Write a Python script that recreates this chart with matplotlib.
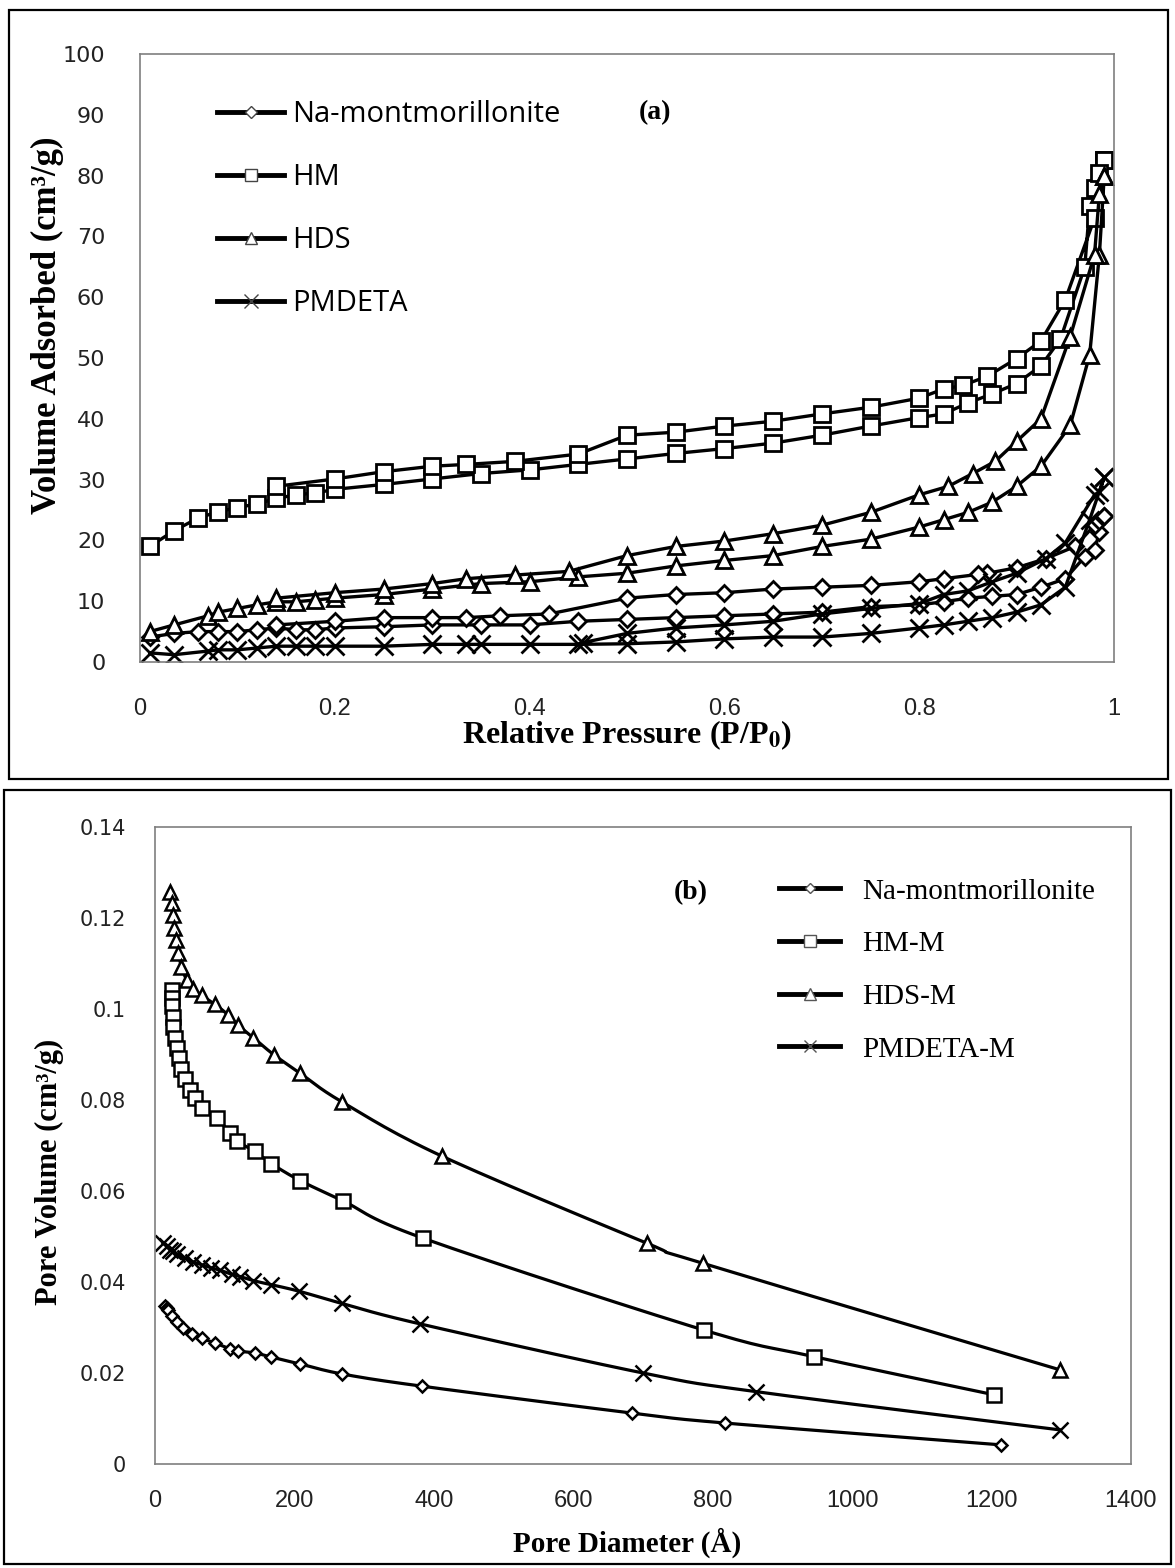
import matplotlib
matplotlib.use("Agg")
import numpy as np
import matplotlib.pyplot as plt
from matplotlib.lines import Line2D
from matplotlib.patches import Rectangle
from matplotlib import font_manager

plt.rcParams['mathtext.fontset'] = 'stix'

# ---- (a) N2 isotherms: adsorption branch then desorption branch ----
na_ads_x = [0.01, 0.035, 0.06, 0.08, 0.1, 0.12, 0.14, 0.16, 0.18, 0.2, 0.25, 0.3, 0.35, 0.4, 0.45, 0.5,
            0.55, 0.6, 0.65, 0.7, 0.75, 0.8, 0.825, 0.85, 0.875, 0.9, 0.925, 0.95, 0.97, 0.98, 0.985, 0.99]
na_ads_y = [4.1, 4.7, 5.0, 5.0, 5.0, 5.3, 5.6, 5.3, 5.3, 5.6, 5.8, 6.1, 6.1, 6.1, 6.7, 7.0,
            7.3, 7.6, 7.9, 8.2, 9.1, 9.4, 9.9, 10.5, 10.8, 11.1, 12.3, 13.7, 17.3, 18.4, 21.3, 24.0]
na_des_x = [0.99, 0.98, 0.96, 0.93, 0.9, 0.87, 0.86, 0.825, 0.8, 0.75, 0.7, 0.65, 0.6, 0.55, 0.5,
            0.42, 0.37, 0.335, 0.3, 0.25, 0.2, 0.14]
na_des_y = [24.0, 22.5, 19.0, 17.0, 15.5, 14.6, 14.4, 13.7, 13.2, 12.6, 12.3, 12.0, 11.4, 11.1, 10.5,
            7.9, 7.6, 7.3, 7.3, 7.3, 6.7, 6.1]

hm_ads_x = [0.01, 0.035, 0.06, 0.08, 0.1, 0.12, 0.14, 0.16, 0.18, 0.2, 0.25, 0.3, 0.35, 0.4, 0.45, 0.5,
            0.55, 0.6, 0.65, 0.7, 0.75, 0.8, 0.825, 0.85, 0.875, 0.9, 0.925, 0.945, 0.97, 0.975, 0.98, 0.99]
hm_ads_y = [19.0, 21.6, 23.7, 24.7, 25.4, 26.0, 26.9, 27.5, 27.8, 28.4, 29.2, 30.1, 31.0, 31.6, 32.5, 33.4,
            34.3, 35.1, 36.0, 37.3, 38.8, 40.2, 40.8, 42.6, 44.1, 45.8, 48.7, 53.1, 65.0, 75.0, 78.0, 82.5]
hm_des_x = [0.99, 0.985, 0.98, 0.95, 0.925, 0.9, 0.87, 0.845, 0.825, 0.8, 0.75, 0.7, 0.65, 0.6, 0.55, 0.5,
            0.45, 0.385, 0.335, 0.3, 0.25, 0.2, 0.14]
hm_des_y = [82.5, 80.5, 73.0, 59.6, 52.8, 49.9, 47.0, 45.5, 44.9, 43.4, 41.9, 40.8, 39.6, 38.8, 37.8, 37.3,
            34.2, 33.0, 32.5, 32.2, 31.3, 30.1, 28.9]

hds_ads_x = [0.01, 0.035, 0.07, 0.08, 0.1, 0.12, 0.14, 0.16, 0.18, 0.2, 0.25, 0.3, 0.35, 0.4, 0.45, 0.5,
             0.55, 0.6, 0.65, 0.7, 0.75, 0.8, 0.825, 0.85, 0.875, 0.9, 0.925, 0.955, 0.975, 0.985, 0.99]
hds_ads_y = [5.0, 6.1, 7.6, 8.2, 8.8, 9.4, 9.9, 9.9, 10.2, 10.5, 11.1, 12.0, 12.9, 13.2, 14.0, 14.6,
             15.8, 16.7, 17.5, 19.0, 20.2, 22.2, 23.4, 24.6, 26.3, 28.9, 32.2, 38.9, 50.5, 67.0, 80.0]
hds_des_x = [0.99, 0.985, 0.98, 0.955, 0.925, 0.9, 0.878, 0.855, 0.83, 0.8, 0.75, 0.7, 0.65, 0.6, 0.55, 0.5,
             0.44, 0.385, 0.335, 0.3, 0.25, 0.2, 0.14]
hds_des_y = [80.0, 77.0, 67.0, 53.5, 40.0, 36.3, 33.0, 31.0, 28.9, 27.5, 24.6, 22.5, 21.1, 19.9, 19.0, 17.5,
             14.9, 14.3, 13.7, 12.9, 12.0, 11.4, 10.5]

pm_ads_x = [0.01, 0.035, 0.07, 0.08, 0.1, 0.12, 0.14, 0.16, 0.18, 0.2, 0.25, 0.3, 0.335, 0.35, 0.4, 0.45,
            0.5, 0.55, 0.6, 0.65, 0.7, 0.75, 0.8, 0.825, 0.85, 0.875, 0.9, 0.925, 0.95, 0.975, 0.99]
pm_ads_y = [1.5, 1.2, 1.8, 2.0, 2.0, 2.3, 2.6, 2.6, 2.6, 2.6, 2.6, 2.9, 2.9, 2.9, 2.9, 2.9,
            3.0, 3.3, 3.8, 4.1, 4.1, 4.7, 5.6, 6.1, 6.7, 7.3, 8.2, 9.4, 12.3, 23.4, 30.4]
pm_des_x = [0.99, 0.985, 0.98, 0.95, 0.93, 0.9, 0.875, 0.85, 0.825, 0.8, 0.75, 0.7, 0.65, 0.6, 0.55, 0.5, 0.455]
pm_des_y = [30.4, 28.0, 27.5, 19.6, 17.0, 14.6, 13.2, 11.7, 11.1, 9.6, 8.8, 7.9, 6.7, 6.1, 5.6, 4.7, 3.2]

labels_a = ["Na-montmorillonite", "HM", "HDS", "PMDETA"]

# ---- (b) pore size distribution ----
na_d = [14.3, 16.7, 19, 24, 31, 40.6, 52.6, 67, 86, 107.6, 119.5, 143.5, 167, 208, 268, 383, 684, 818, 1214]
na_v = [0.0348, 0.0343, 0.0339, 0.0326, 0.0312, 0.0298, 0.0285, 0.0276, 0.0266, 0.0253, 0.0248, 0.0244,
        0.0235, 0.0220, 0.0198, 0.0171, 0.0112, 0.0090, 0.0042]
hm_d = [24, 24, 24, 25.4, 26.3, 28.7, 31, 35, 38, 43, 50, 57, 67, 88.5, 107.6, 117, 143, 167, 208, 270,
        385, 788, 945, 1204]
hm_v = [0.1042, 0.1024, 0.1006, 0.0983, 0.0960, 0.0937, 0.0915, 0.0892, 0.0869, 0.0846, 0.0823, 0.0805,
        0.0782, 0.0760, 0.0728, 0.0710, 0.0687, 0.0660, 0.0623, 0.0578, 0.0496, 0.0294, 0.0236, 0.0152]
hds_d = [22, 24, 25.5, 27.5, 30, 33.5, 38, 45.5, 55, 67, 86, 105, 119.5, 141, 170, 208, 268, 411, 706, 786, 1298]
hds_v = [0.1258, 0.1233, 0.1206, 0.1178, 0.1152, 0.1124, 0.1092, 0.1064, 0.1045, 0.1030, 0.1010, 0.0987,
         0.0964, 0.0937, 0.0900, 0.0859, 0.0796, 0.0677, 0.0485, 0.0441, 0.0207]
pm_d = [11.5, 17, 21.5, 26, 31, 43, 55, 67, 81, 93, 110, 122, 141, 167, 206, 268, 380, 700, 862, 1298]
pm_v = [0.0486, 0.0479, 0.0471, 0.0468, 0.0462, 0.0453, 0.0444, 0.0438, 0.0431, 0.0426, 0.0417, 0.0412,
        0.0403, 0.0394, 0.0380, 0.0353, 0.0308, 0.0200, 0.0159, 0.0075]

labels_b = ["Na-montmorillonite", "HM-M", "HDS-M", "PMDETA-M"]

markers = ['D', 's', '^', 'x']
msize_a = [8, 12, 12, 13]
msize_b = [6.5, 10, 10, 11]


def smooth(x, y, n=16):
    # Excel style smoothed line (Catmull-Rom through the points)
    x = np.asarray(x, float)
    y = np.asarray(y, float)
    px = np.concatenate([[x[0]], x, [x[-1]]])
    py = np.concatenate([[y[0]], y, [y[-1]]])
    t = np.linspace(0, 1, n)[:, None]
    xs, ys = [], []
    for i in range(1, len(x)):
        for arr, out in ((px, xs), (py, ys)):
            p0, p1, p2, p3 = arr[i - 1], arr[i], arr[i + 1], arr[i + 2]
            seg = 0.5 * (2 * p1 + (-p0 + p2) * t + (2 * p0 - 5 * p1 + 4 * p2 - p3) * t ** 2
                         + (-p0 + 3 * p1 - 3 * p2 + p3) * t ** 3)
            out.append(seg.ravel())
    return np.concatenate(xs), np.concatenate(ys)


def narrow_font():
    try:
        font_manager.findfont("Liberation Sans Narrow", fallback_to_default=False)
        return "Liberation Sans Narrow"
    except Exception:
        return "Liberation Sans"


W, H = 1175, 1568
fig = plt.figure(figsize=(W / 100, H / 100), dpi=100)


def box(x0, y0, x1, y1):
    # pixel box (top-left origin) -> figure fraction rect
    return [x0 / W, 1 - y1 / H, (x1 - x0) / W, (y1 - y0) / H]


def ftext(px, py, s, **kw):
    fig.text(px / W, 1 - py / H, s, ha='center', va='center', **kw)


# outer frames round each panel
for r in [(9, 10, 1168, 779), (4, 790, 1171, 1564)]:
    x0, y0, w, h = box(*r)
    fig.patches.append(Rectangle((x0, y0), w, h, transform=fig.transFigure, fill=False,
                                 lw=1.6, ec='black'))

ax1 = fig.add_axes(box(140, 54, 1114, 662))
ax2 = fig.add_axes(box(155, 827, 1131, 1464))
nf = narrow_font()
serif_bold = dict(fontfamily="Liberation Serif", fontweight='bold')

# ---------- panel (a) ----------
series_a = [(na_ads_x + na_des_x, na_ads_y + na_des_y),
            (hm_ads_x + hm_des_x, hm_ads_y + hm_des_y),
            (hds_ads_x + hds_des_x, hds_ads_y + hds_des_y),
            (pm_ads_x + pm_des_x, pm_ads_y + pm_des_y)]
for (x, y), m, ms in zip(series_a, markers, msize_a):
    ax1.plot(x, y, color='black', lw=2.4, marker=m, ms=ms, mfc='white', mec='black', mew=2.0)

ax1.set_xlim(0, 1)
ax1.set_ylim(0, 100)
ax1.set_xticks([0, 0.2, 0.4, 0.6, 0.8, 1])
ax1.set_xticklabels(["0", "0.2", "0.4", "0.6", "0.8", "1"], fontfamily=nf, fontsize=17)
ax1.set_yticks(range(0, 101, 10))
ax1.set_yticklabels([str(v) for v in range(0, 101, 10)], fontfamily="DejaVu Sans", fontsize=16)
ax1.tick_params(axis='x', length=0, pad=26, colors='#222222')
ax1.tick_params(axis='y', length=0, pad=25, colors='#222222')
ftext(627, 735, r"Relative Pressure (P/P$_\mathbf{0}$)", fontsize=23, **serif_bold)
ftext(47, 325, "Volume Adsorbed (cm³/g)", rotation=90, fontsize=25, **serif_bold)
for s in ax1.spines.values():
    s.set_color('#7f7f7f')
    s.set_linewidth(1.2)

handles_a = [Line2D([], [], color='black', lw=3.5, marker=m, ms=ms * 0.75, mfc='white',
                    mec='#444444', mew=1.0) for m, ms in zip(markers, msize_a)]
ax1.legend(handles_a, labels_a, loc='upper left', bbox_to_anchor=(191 / W, 1 - 74 / H),
           bbox_transform=fig.transFigure, frameon=False, handlelength=2.3, handletextpad=0.27,
           labelspacing=1.16, prop={'family': 'Open Sans', 'size': 21})
ftext(655, 113, "(a)", fontsize=20, **serif_bold)

# ---------- panel (b) ----------
series_b = [(na_d, na_v), (hm_d, hm_v), (hds_d, hds_v), (pm_d, pm_v)]
for (x, y), m, ms in zip(series_b, markers, msize_b):
    sx, sy = smooth(x, y)
    ax2.plot(sx, sy, color='black', lw=2.3)
    ax2.plot(x, y, ls='none', marker=m, ms=ms, mfc='white', mec='black', mew=1.8)

ax2.set_xlim(0, 1400)
ax2.set_ylim(0, 0.14)
ax2.set_xticks(range(0, 1401, 200))
ax2.set_xticklabels([str(v) for v in range(0, 1401, 200)], fontfamily=nf, fontsize=17)
yt = [0, 0.02, 0.04, 0.06, 0.08, 0.1, 0.12, 0.14]
ax2.set_yticks(yt)
ax2.set_yticklabels(["0", "0.02", "0.04", "0.06", "0.08", "0.1", "0.12", "0.14"],
                    fontfamily="DejaVu Sans", fontsize=15)
ax2.tick_params(axis='x', length=0, pad=19, colors='#222222')
ax2.tick_params(axis='y', length=0, pad=21, colors='#222222')
ftext(627, 1543, "Pore Diameter (Å)", fontsize=21, **serif_bold)
ftext(49, 1172, "Pore Volume (cm³/g)", rotation=90, fontsize=22, **serif_bold)
for s in ax2.spines.values():
    s.set_color('#7f7f7f')
    s.set_linewidth(1.2)

handles_b = [Line2D([], [], color='black', lw=3.5, marker=m, ms=ms * 0.8, mfc='white',
                    mec='#555555', mew=1.0) for m, ms in zip(markers, msize_b)]
ax2.legend(handles_b, labels_b, loc='upper left', bbox_to_anchor=(753 / W, 1 - 852 / H),
           bbox_transform=fig.transFigure, frameon=False, handlelength=2.1, handletextpad=0.75,
           labelspacing=0.9, prop={'family': 'Liberation Serif', 'size': 21})
ftext(691, 893, "(b)", fontsize=20, **serif_bold)

fig.savefig("out.png", dpi=100)
